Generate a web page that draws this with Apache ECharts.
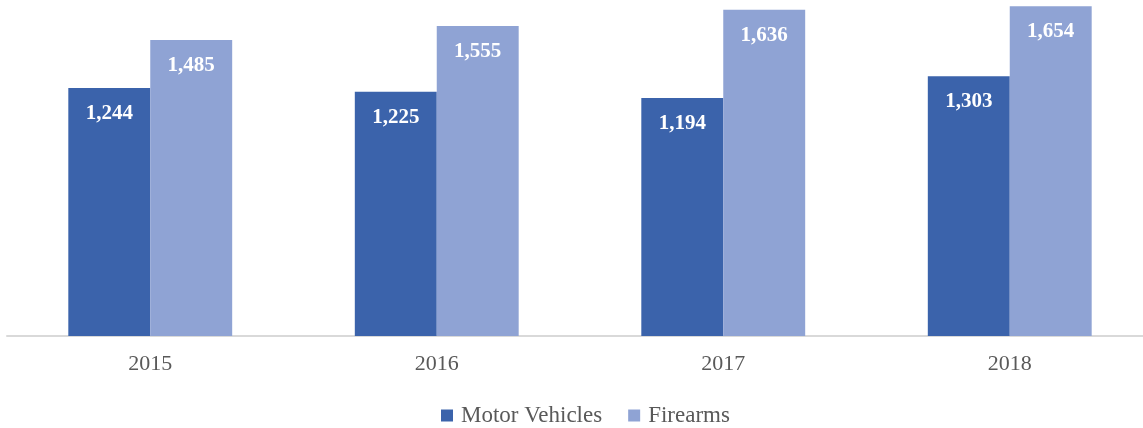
<!DOCTYPE html>
<html>
<head>
<meta charset="utf-8">
<script src="https://cdn.jsdelivr.net/npm/echarts@6/dist/echarts.min.js"></script>
<style>
html,body{margin:0;padding:0;background:#fff;}
#chart{width:1143px;height:428px;}
</style>
</head>
<body>
<div id="chart"></div>
<script>
const categories = ['2015', '2016', '2017', '2018'];
const motorVehicles = [1244, 1225, 1194, 1303];
const firearms = [1485, 1555, 1636, 1654];
const seriesNames = ['Motor Vehicles', 'Firearms'];

const FONT = '"Liberation Serif", "DejaVu Serif", serif';
const chart = echarts.init(document.getElementById('chart'), null, {renderer: 'canvas'});
const labelCfg = {
  show: true,
  position: 'insideTop',
  distance: 15,
  color: '#ffffff',
  fontFamily: FONT,
  fontSize: 21,
  fontWeight: 'bold',
  formatter: p => p.value.toLocaleString('en-US')
};
chart.setOption({
  animation: false,
  backgroundColor: '#ffffff',
  grid: {left: 7, width: 1146, top: 0, bottom: 92, outerBoundsMode: 'none'},
  legend: {
    top: 399,
    left: 436,
    itemWidth: 12,
    itemHeight: 12,
    itemGap: 26,
    icon: 'rect',
    textStyle: {fontFamily: FONT, fontSize: 23, color: '#595959', padding: [0, 0, 0, 3]},
    data: seriesNames
  },
  xAxis: {
    type: 'category',
    data: categories,
    axisLine: {lineStyle: {color: '#d9d9d9', width: 2}},
    axisTick: {show: false},
    axisLabel: {fontFamily: FONT, fontSize: 22, color: '#595959', margin: 17}
  },
  yAxis: {
    type: 'value',
    min: 0,
    max: 1685,
    show: false,
    splitLine: {show: false}
  },
  series: [
    {
      name: seriesNames[0],
      type: 'bar',
      data: motorVehicles,
      barGap: '0%',
      barCategoryGap: '42.8%',
      itemStyle: {color: '#3B63AB'},
      label: labelCfg
    },
    {
      name: seriesNames[1],
      type: 'bar',
      data: firearms,
      itemStyle: {color: '#8FA3D4'},
      label: labelCfg
    }
  ]
});
</script>
</body>
</html>
